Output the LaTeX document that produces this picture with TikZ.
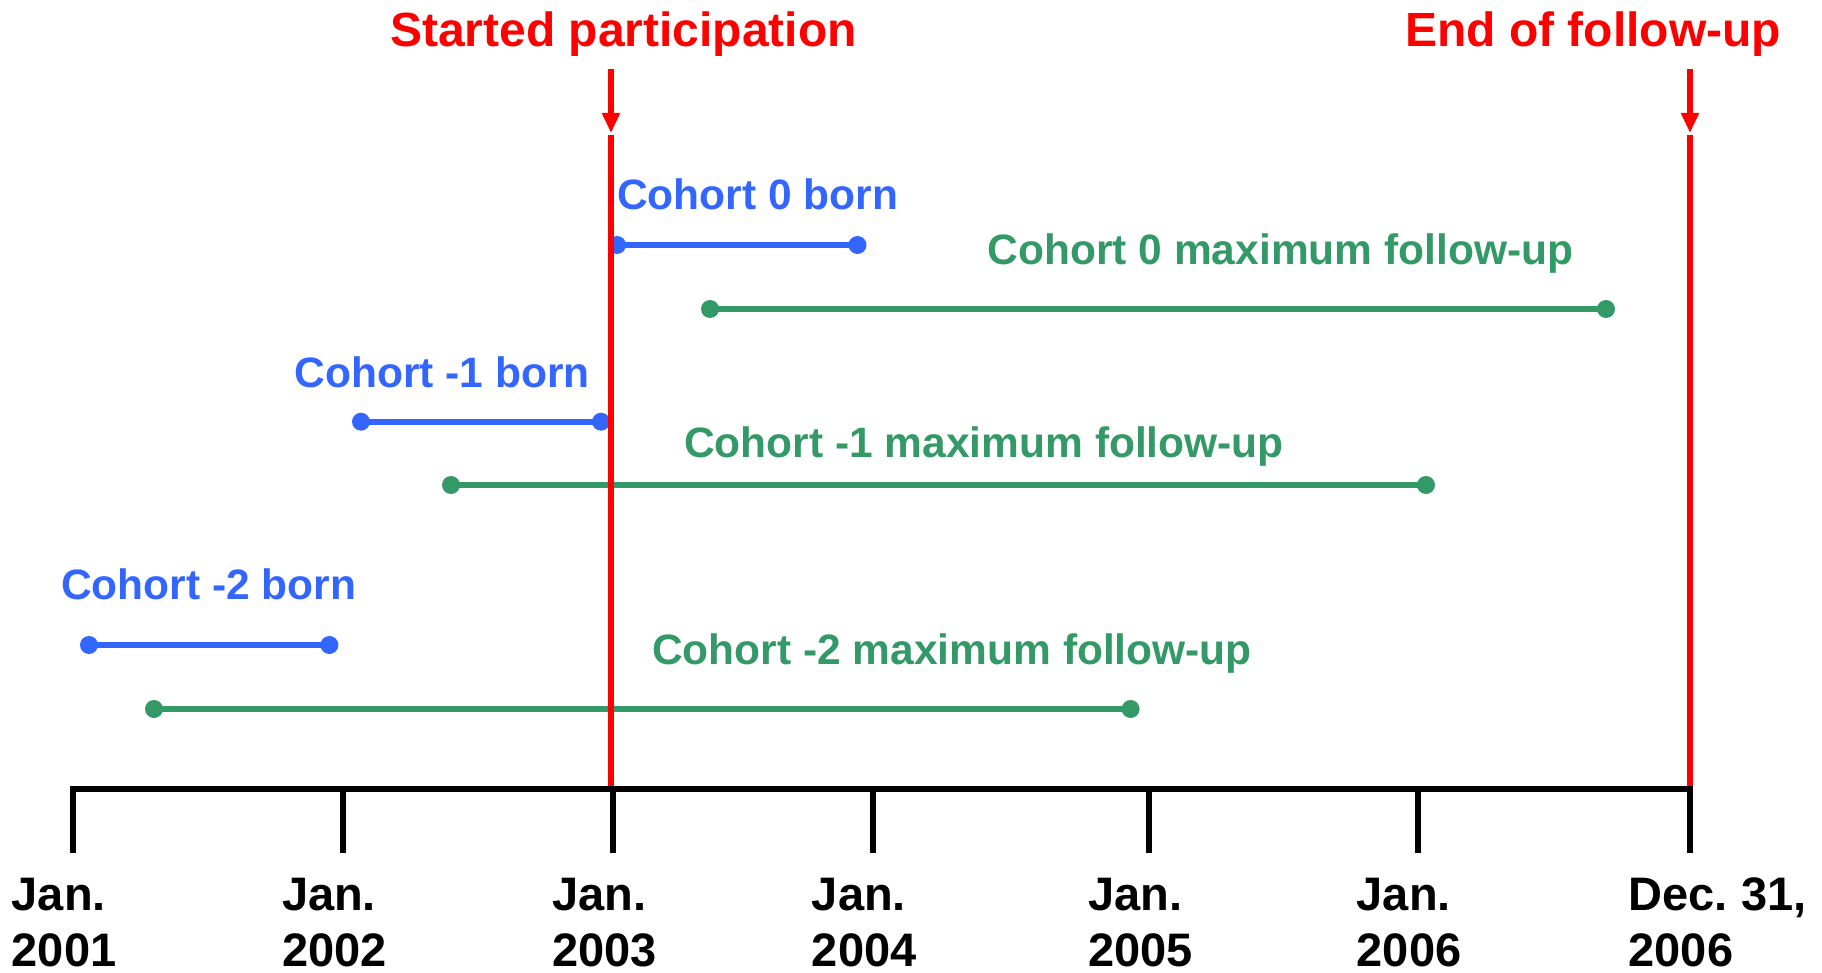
\documentclass[tikz,border=0pt]{standalone}
\usepackage{fontspec}
\setmainfont{Liberation Sans}
\usetikzlibrary{arrows.meta}
\definecolor{cohortblue}{RGB}{51,102,255}
\definecolor{cohortgreen}{RGB}{51,153,102}

\begin{document}
\begin{tikzpicture}[x=1pt, y=-1pt,
    born/.style={cohortblue, line width=6pt},
    followup/.style={cohortgreen, line width=6pt},
    marker/.style={red, line width=6pt},
    axisline/.style={black, line width=6pt},
    bornlbl/.style={text=cohortblue, anchor=base west, inner sep=0pt, font=\fontsize{42.5}{50}\selectfont\bfseries},
    followlbl/.style={bornlbl, text=cohortgreen},
    headlbl/.style={text=red, anchor=base west, inner sep=0pt, font=\fontsize{48}{56}\selectfont\bfseries},
    ticklbl/.style={anchor=base west, inner sep=0pt, text depth=0pt, font=\fontsize{47}{57}\selectfont\bfseries}]
  \useasboundingbox (0,0) rectangle (1822,973);

  % born and maximum follow-up intervals
  \foreach \n/\a/\b/\y/\txt/\lx/\ly in {0/617/857.5/245/{Cohort 0 born}/617/210,
      1/361/601/421.7/{Cohort -1 born}/294.5/387, 2/89/329.4/645/{Cohort -2 born}/61/599} {
    \coordinate (bs\n) at (\a,\y);
    \coordinate (be\n) at (\b,\y);
    \draw[born] (bs\n) -- (be\n);
    \fill[cohortblue] (bs\n) circle (9pt) (be\n) circle (9pt);
    \node[bornlbl] (bl\n) at (\lx,\ly) {\txt};
  }
  \foreach \n/\a/\b/\y/\txt/\lx/\ly in {0/710/1606/309/{Cohort 0 maximum follow-up}/987.5/265,
      1/451/1426/485/{Cohort -1 maximum follow-up}/684/457, 2/154/1130.6/709/{Cohort -2 maximum follow-up}/652/664} {
    \coordinate (fs\n) at (\a,\y);
    \coordinate (fe\n) at (\b,\y);
    \draw[followup] (fs\n) -- (fe\n);
    \fill[cohortgreen] (fs\n) circle (9pt) (fe\n) circle (9pt);
    \node[followlbl] (fl\n) at (\lx,\ly) {\txt};
  }

  % start and end markers
  \coordinate (startarr) at (611,69);
  \coordinate (starttip) at (611,133);
  \coordinate (starttop) at (611,135);
  \coordinate (startbot) at (611,789);
  \coordinate (endarr) at (1690,69);
  \coordinate (endtip) at (1690,133);
  \coordinate (endtop) at (1690,135);
  \coordinate (endbot) at (1690,789);
  \draw[marker, -{Triangle[width=17pt,length=20pt]}] (startarr) -- (starttip);
  \draw[marker] (starttop) -- (startbot);
  \draw[marker, -{Triangle[width=17pt,length=20pt]}] (endarr) -- (endtip);
  \draw[marker] (endtop) -- (endbot);
  \node[headlbl] (started) at (390,47) {Started participation};
  \node[headlbl] (ended) at (1405,47) {End of follow-up};

  % time axis
  \foreach \x/\mon/\yr [count=\i] in {72.6/Jan./2001, 342.8/Jan./2002, 613/Jan./2003,
      872.7/Jan./2004, 1149/Jan./2005, 1417.6/Jan./2006, 1689.5/{Dec.\ 31,}/2006} {
    \coordinate (t\i) at (\x,789);
    \coordinate (tb\i) at (\x,853);
    \draw[axisline] ([yshift=3pt]t\i) -- (tb\i);
    \node[ticklbl] (m\i) at (\x-61,910) {\mon};
    \node[ticklbl] (y\i) at (\x-61,966) {\yr};
  }
  \draw[axisline] (t1) -- (t7);
\end{tikzpicture}
\end{document}
